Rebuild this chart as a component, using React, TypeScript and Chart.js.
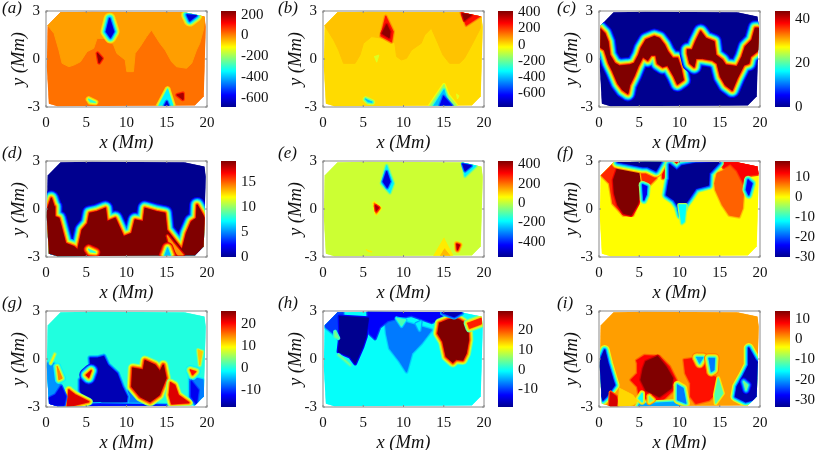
import { useEffect, useRef } from 'react'
import { Chart, registerables } from 'chart.js'

Chart.register(...registerables)

type Pt = number[]
type Region = [Pt[], number, number?]

const xTicks = [0, 5, 10, 15, 20]
const yTicks = [-3, 0, 3]
const jetStops: [number, number[]][] = [
    [0, [0, 0, 143]], [0.125, [0, 0, 255]], [0.375, [0, 255, 255]],
    [0.625, [255, 255, 0]], [0.875, [255, 0, 0]], [1, [128, 0, 0]],
]

// edge of the measured area, same in every panel
const outline = [[0.1, -0.5], [0.2, 2.1], [1.8, 2.92], [5.7, 2.95], [17.2, 2.92], [19.7, 2.65], [19.85, 2.0], [19.6, -2.35], [18.5, -2.9], [1.4, -2.95], [0.35, -2.8]]

// (a)
const aUpper = [[0.2, 2.1], [1.8, 2.92], [17.2, 2.92], [19.7, 2.65], [19.6, 1.92], [19.1, 0.98], [18.7, 0.56], [18.1, -0.27], [17.45, -0.58], [16.2, -0.48], [15.6, -0.17], [14.8, 0.56], [14.15, 0.98], [13.1, 1.81], [12.5, 1.4], [11.7, 0.77], [11.07, 0.35], [10.86, -0.79], [10.04, -0.79], [9.84, -0.06], [8.8, 0.35], [8.4, 0.88], [7.57, 1.29], [6.34, 1.29], [5.93, 0.67], [5.1, 0.46], [4.28, -0.17], [3.46, -0.38], [2.84, -0.48], [2.0, -0.27], [1.6, 0.56], [1.0, 1.6]]
const aBlue1 = [[7.9, 2.52], [8.4, 1.71], [8.0, 1.35], [7.5, 1.71]]
const aBlue2 = [[17.53, 2.75], [18.68, 2.71], [17.86, 2.4]]
const aRed1 = [[6.4, 0.35], [6.95, 0.04], [6.6, -0.23]]
const aRed2 = [[16.3, -2.25], [17.0, -2.15], [17.0, -2.52]]
const aFan = [[15.1, -1.9], [15.8, -3], [13.95, -3]]
const aFanCore = [[15.0, -2.67], [15.3, -3], [14.65, -3]]
const aSpot = [[5.3, -2.52], [6.13, -2.71], [5.5, -2.67]]

// (b)
const bUpper = [[0.2, 2.1], [1.73, 2.92], [17.16, 2.92], [19.63, 2.65], [19.55, 1.92], [18.6, 0.98], [17.57, 0.04], [16.95, -0.27], [15.72, -0.27], [14.9, 0.25], [14.28, 0.98], [13.46, 1.92], [12.63, 1.5], [12.2, 0.98], [11, 0.56], [10.37, 0.04], [9.75, -0.06], [9.14, 0.15], [8.93, 0.98], [8.31, 1.19], [7.49, 1.29], [6.05, 1.4], [5.02, 0.98], [4.6, 0.25], [3.99, -0.27], [2.55, -0.27], [1.93, 0.56], [1.32, 1.19], [0.29, 2.02]]
const bRed1 = [[7.8, 2.65], [8.7, 1.71], [8.5, 1.08], [7.2, 1.44]]
const bRed1Core = [[7.9, 2.13], [8.3, 1.71], [8.2, 1.35], [7.37, 1.6]]
const bRed2 = [[17.16, 2.92], [19.55, 2.7], [17.8, 2.12]]
const bRed2Core = [[17.37, 2.81], [18.4, 2.75], [17.6, 2.44]]
const bSpot1 = [[6.4, 0.15], [6.95, 0.25], [6.67, -0.2]]
const bFan = [[15.02, -1.63], [15.5, -2.25], [16.54, -2.9], [13.25, -2.95]]
const bFanMid = [[15.02, -1.94], [15.72, -3], [13.66, -3]]
const bFanCore = [[14.98, -2.35], [16.13, -3], [14.5, -3]]
const bSpot2 = [[16.6, -2.2], [16.9, -2.3], [16.7, -2.5]]
const bSpot3 = [[5.3, -2.52], [6.1, -2.7], [5.6, -2.67]]

// (c)
const cBand1 = [[0.08, 1.92], [0.7, 1.6], [1.11, 1.08], [1.32, 0.25], [1.93, -0.27], [2.55, -0.44], [3.79, -0.38], [4.4, -0.27], [4.94, 0.25], [5.23, 0.67], [5.84, 1.19], [6.87, 1.4], [7.49, 1.29], [8.11, 0.88], [8.52, 0.46], [9.14, 0.04], [9.75, 0.04], [10.16, -0.58], [10.45, -1.31], [9.75, -1.56], [9.34, -1.1], [8.52, -0.38], [7.9, -0.48], [7.28, -0.27], [7.08, 0.25], [6.46, 0.25], [6.05, -0.06], [5.43, 0.15], [4.81, -0.48], [4.4, -1.0], [3.79, -1.63], [3.58, -2.15], [2.96, -1.94], [2.35, -1.52], [1.73, -0.79], [1.23, -0.27], [0.7, 0.56], [0.08, 0.77]]
const cBand2 = [[11, 0.56], [11.6, 0.56], [12.02, 1.08], [12.63, 1.71], [13.25, 1.29], [14.28, 1.08], [14.49, 0.25], [15.3, -0.06], [15.72, -0.38], [17.16, -0.48], [17.78, 0.15], [18.19, 0.77], [19.01, 1.19], [19.42, 1.92], [19.84, 1.92], [19.84, 0.56], [18.8, 0.15], [18.6, -0.27], [17.98, -0.38], [17.16, -1.2], [16.54, -1.94], [15.72, -1.63], [15.1, -1.1], [14.69, -0.27], [14.07, -0.06], [12.84, 0.04], [12.02, 0.04], [11.81, -0.48], [11.3, -0.27], [11, 0.35]]

// (d)
const dLower = [[0, -0.27], [0.66, 0.67], [1, 0.15], [1.07, -0.48], [1.6, -0.58], [2.43, -2.15], [3.46, -2.35], [3.95, -2.56], [4.49, -1.31], [5.19, -0.9], [5.43, -0.27], [6.34, -0.17], [7.37, 0.04], [7.57, -0.79], [8.6, -0.58], [9.63, -1.73], [10.66, -1.52], [11.07, -0.69], [12.1, -0.79], [12.3, 0.04], [13.74, -0.17], [14.77, -0.27], [14.98, -1.31], [16.83, -2.5], [16.95, -2.5], [17.45, -1.52], [18.07, -0.79], [18.68, -0.58], [18.77, 0.25], [19.7, -0.58], [20, -2.56], [20, -3.2], [0, -3.2]]
const dStreak = [[15.1, -1.69], [15.8, -2.15], [17.04, -2.88], [16.42, -2.88], [15.39, -2.25]]
const dFan = [[15.1, -2.45], [15.5, -3], [14.7, -3]]
const dSpot = [[5.3, -2.52], [6.13, -2.71], [5.5, -2.67]]

// (e)
const eBlue1 = [[7.9, 2.7], [8.72, 1.6], [8.31, 1.02], [7.28, 1.6]]
const eBlue1Core = [[7.9, 2.33], [8.31, 1.71], [7.98, 1.35], [7.49, 1.71]]
const eBlue2 = [[17.37, 2.9], [19.0, 2.7], [17.65, 2.06]]
const eBlue2Core = [[17.37, 2.8], [18.4, 2.7], [17.65, 2.4]]
const eRed1 = [[6.38, 0.35], [7.08, 0.04], [6.63, -0.27]]
const eRed1Core = [[6.54, 0.2], [6.9, 0.08], [6.63, -0.1]]
const eRed2 = [[16.63, -2.2], [16.95, -2.25], [16.7, -2.55]]
const eFan = [[15.02, -1.83], [16.13, -2.9], [13.66, -3]]
const eFanCore = [[15.1, -2.5], [15.9, -3], [14.5, -3]]
const eSpot = [[5.4, -2.55], [6.1, -2.68], [5.6, -2.66]]

// (f)
const fShell = [[0.29, 2.12], [1.93, 2.9], [5.49, 2.4], [5.35, 0.98], [4.2, -0.38], [3.05, -0.38], [1.73, 0.35], [1.32, 1.6]]
const fDark = [[2.35, 2.6], [5.35, 2.4], [5.1, 1.08], [4.81, 0.35], [3.99, -0.38], [3.05, -0.27], [2.35, 0.25], [1.93, 0.98], [1.81, 1.81]]
const fRedMid = [[5.23, 2.44], [7.49, 2.85], [7.7, 2.75], [7.08, 1.92], [6.25, 1.5], [6.05, 1.29], [5.43, 1.71]]
const fRedTop = [[7.9, 2.9], [10.99, 2.9], [10.37, 2.69], [9.14, 2.81], [8.4, 1.92], [7.9, 1.92]]
const fStrip = [[2.35, 2.95], [7.7, 2.95], [7.08, 2.4], [6.05, 2.65], [5.43, 2.65]]
const fBlueSmall = [[5.43, 1.5], [5.93, 1.4], [5.84, 0.88], [5.56, 0.56]]
const fBlue = [[8.8, 2.75], [9.67, 2.4], [10.29, 2.69], [12.02, 2.85], [14.9, 2.9], [13.66, 2.23], [13.58, 1.5], [12.02, 1.29], [11.2, 0.67], [10.58, 0.25], [10.16, -0.38], [9.88, 0.15], [9.34, 0.56], [8.4, 0.88], [8.72, 1.81]]
const fTail = [[9.96, 0.25], [10.78, 0.25], [10.58, -0.79], [10.29, -0.9]]
const fOrange = [[14.4, 1.6], [14.7, 2.23], [15.5, 2.4], [16.3, 2.75], [17.2, 2.23], [18.0, 1.6], [17.8, 0.04], [17.4, -0.48], [16.2, -0.38], [15.35, 0.25], [14.5, 1.19]]
const fRedRight = [[15.1, 2.9], [17, 2.93], [19.84, 2.65], [19.84, 2.2], [18.2, 2.1], [18.0, 1.6], [17.2, 2.4], [16.3, 2.85], [15.5, 2.6]]
const fBlueRight = [[18.52, 1.81], [19.01, 1.6], [18.6, 0.88], [18.31, 1.2]]

// (g)
const gBlue = [[5.51, 0.04], [6.34, 0.04], [7.16, 0.15], [7.65, -0.38], [8.8, -0.9], [9.42, -1.73], [10.04, -2.35], [9.96, -2.67], [8.4, -2.77], [6.75, -2.81], [4.69, -2.46], [4.28, -1.94], [4.28, -1.31], [5.19, -1], [5.6, -0.48]]
const gDark = [[10.78, -0.58], [12.1, -0.69], [12.3, -0.1], [13.54, -0.38], [14.16, -0.79], [14.57, -0.38], [14.9, -1.2], [14.07, -2.25], [12.92, -2.67], [11.69, -2.35], [10.66, -1.73]]
const gRedRight = [[15.47, -1.48], [16, -1.63], [16.43, -2.25], [17.76, -2.73], [15.6, -2.81], [15.31, -2.25]]
const gRedLeft = [[2.84, -1.94], [3.66, -2.25], [5.31, -2.67], [2.63, -3]]
const gBlueLeft = [[1.89, -1.73], [2.43, -2.35], [2.22, -2.88], [0.58, -2.88], [0.37, -2.46], [1.19, -2.25]]
const gPaleLeft = [[0.16, -0.27], [1, -0.27], [1.19, -1.1], [1.81, -1.63], [1.19, -2.15], [0.37, -2.35], [0.16, -1.52]]
const gSpot1 = [[1.4, -0.48], [2.0, -1.2], [1.6, -1.3]]
const gSpot2 = [[0.58, -0.27], [1.1, 0.31], [0.8, -0.06]]
const gSpot3 = [[5.0, -1], [5.6, -0.73], [5.3, -1.15]]
const gSpot4 = [[17.94, -0.69], [18.6, -0.79], [18.2, -1]]
const gSpot5 = [[18.89, 0.56], [19.42, 0.46], [19.1, -0.38]]
const gPaleRight = [[17.86, -1.1], [19.5, -1.31], [19.6, -2.56], [18.5, -2.88], [17.86, -2.35]]
const gBlueRight = [[18.07, -1.42], [18.9, -1.94], [18.68, -2.77], [18.07, -2.35]]
const gStrip = [[6.75, -2.81], [14.98, -2.88], [14.98, -3.05], [1.4, -3.05], [0.58, -2.9]]
const gPaleMid = [[10.25, -1.94], [11.28, -2.56], [13.74, -2.77], [10.04, -2.77]]

// (h)
const hMid = [[7.7, 2.65], [13.46, 1.81], [12.2, 0.98], [11, 0.35], [10.37, -0.79], [9.55, -0.15], [8.3, 0.67], [7.9, 1.6]]
const hTop = [[5.6, 2.95], [15.5, 2.95], [14.9, 2.6], [13.5, 2.3], [11, 2.75], [9.5, 2.6], [8, 2.4], [7.0, 2.0], [6.46, 1.29], [5.8, 1.6]]
const hLeft = [[0.29, 2.2], [1.73, 2.9], [2.5, 2.9], [2.0, 1.2], [1.3, 1.6], [0.3, 2.0]]
const hBlue = [[2.06, 2.65], [5.64, 2.54], [5.31, 1.4], [4.9, 0.77], [3.99, -0.27], [3.37, 0.15], [1.93, 0.46], [2.14, 1.4]]
const hSpot1 = [[9.14, 2.54], [10.25, 2.44], [9.75, 2.06]]
const hSpot2 = [[11.6, 2.2], [12.14, 2.33], [12, 1.8]]
const hSpot3 = [[1.5, 1.7], [1.9, 1.3], [1.5, 1.4]]
const hSpot4 = [[1.93, 0.25], [2.96, -0.17], [3.37, -0.38]]
const hDark = [[14.49, 2.23], [15.51, 2.44], [16.34, 2.54], [16.95, 2.44], [17.98, 2.12], [18.07, 1.19], [17.77, 0.35], [17.37, -0.06], [16.54, -0.02], [16.13, -0.21], [15.31, 0.15], [14.9, 1.08], [14.28, 1.6]]
const hBandRight = [[17.98, 2.23], [19.63, 2.54], [19.63, 2.19], [18.2, 1.92]]
const hTopRight = [[14.9, 2.9], [17.2, 2.9], [16.3, 2.65]]

// (i)
const iBlueLeft = [[0, -0.27], [0.7, 0.56], [1.11, -0.27], [1.73, -1.31], [1.93, -1.63], [0.9, -2.35], [0.49, -2.56], [0, -1.94]]
const iDarkLeft = [[1.44, -2.1], [2.14, -2.35], [2.35, -3], [1.32, -3]]
const iPale = [[2.55, -1.83], [4.2, -2.25], [4.81, -2.67], [4.2, -2.88], [2.35, -3]]
const iShell = [[4.7, -0.1], [5.64, 0.2], [7.49, 0.15], [8.72, -0.48], [9.55, -1.31], [9.22, -1.94], [7.9, -2.56], [6.87, -2.56], [5.84, -2.46], [5.02, -2.35], [4.81, -1.73], [4.0, -1.31], [4.81, -0.9], [4.81, -0.27]]
const iDark = [[5.84, -0.17], [7.28, 0.15], [8.3, -0.48], [9.14, -1.2], [8.93, -1.83], [7.49, -2.35], [5.84, -1.94], [5.23, -1.31], [5.51, -0.6]]
const iRed = [[10.58, -0.06], [12.02, 0.04], [13.25, -0.27], [13.25, -0.9], [14.69, -1.2], [14.49, -2.15], [13.66, -2.56], [12.02, -2.77], [11.4, -2.35], [11.4, -1.52], [10.78, -0.9]]
const iBlue1 = [[12.14, 0.1], [12.92, 0.1], [12.5, -0.27]]
const iBlue2 = [[13.66, 0.04], [14.36, 0.04], [14.28, -0.69], [13.95, -0.79]]
const iStripe = [[14.81, -1.2], [15.39, -2.15], [14.49, -2.77], [14.4, -2.25]]
const iBottom = [[5.02, -2.81], [10.37, -2.67], [10.78, -3], [4.81, -3]]
const iVert = [[9.75, -1.63], [10.45, -1.83], [10.8, -2.77], [9.75, -2.56]]
const iSpot1 = [[4.94, -2.46], [5.35, -2.15], [5.35, -2.67]]
const iSpot2 = [[6.25, -2.35], [6.7, -2.56], [6.25, -2.7]]
const iBlueRight = [[18.6, 0.67], [19.42, -0.06], [19.85, -0.27], [19.85, -2.46], [18.2, -2.67], [16.95, -2.35], [17.16, -1.73], [17.98, -1.0], [18.6, -0.38]]
const iSpot3 = [[17.98, -1.42], [18.48, -1.63], [18.27, -1.94]]

const labels = ['(a)', '(b)', '(c)', '(d)', '(e)', '(f)', '(g)', '(h)', '(i)']
const ranges = [[-690, 235], [-770, 415], [0, 43.5], [0, 19.2], [-560, 435], [-30, 17.8], [-17.8, 26], [-18.8, 29.5], [-33.6, 14]]
const barTicks = [
    [200, 0, -200, -400, -600], [400, 200, 0, -200, -400, -600], [40, 20, 0],
    [15, 10, 5, 0], [400, 200, 0, -200, -400], [10, 0, -10, -20, -30],
    [20, 10, 0, -10], [20, 10, 0, -10], [10, 0, -10, -20, -30],
]
const baseValues = [17, 12, 0, 0, 12, -0.1, 0, -0.45, 0.67]
const regions: Region[][] = [
    [[aUpper, -24], [aBlue1, -620], [aBlue2, -620], [aRed1, 220], [aRed2, 200], [aFan, -350], [aFanCore, -620, -350], [aSpot, -300]],
    [[bUpper, 40], [bRed1, 250], [bRed1Core, 400, 250], [bRed2, 250], [bRed2Core, 400, 250], [bSpot1, -70], [bFan, -150], [bFanMid, -400, -150], [bFanCore, -650, -400], [bSpot2, -60], [bSpot3, -400]],
    [[cBand1, 43.5], [cBand2, 43.5]],
    [[dLower, 19.2], [dStreak, 14, 19.2], [dFan, 6, 19.2], [dSpot, 8, 19.2]],
    [[eBlue1, -200], [eBlue1Core, -480, -200], [eBlue2, -200], [eBlue2Core, -500, -200], [eRed1, 200], [eRed1Core, 400, 200], [eRed2, 400], [eFan, 80], [eFanCore, 130, 80], [eSpot, 80]],
    [[fShell, 10], [fDark, 17.8, 10], [fRedMid, 10], [fRedTop, 12], [fStrip, -30, 10], [fBlueSmall, -25], [fOrange, 7.3], [fRedRight, 12, 7.3], [fBlue, -30], [fTail, -12], [fBlueRight, -25]],
    [[gPaleLeft, -6], [gPaleRight, -7], [gPaleMid, -7], [gBlue, -16], [gStrip, -12], [gDark, 26], [gRedRight, 22], [gRedLeft, 22], [gBlueLeft, -14, -6], [gSpot1, 15, -6], [gSpot2, 10], [gSpot3, 22, -16], [gSpot4, 20, -6], [gSpot5, 12], [gBlueRight, -13, -7]],
    [[hMid, -7], [hTop, -13, -7], [hLeft, -10], [hBlue, -18.8, -10], [hSpot1, 3, -7], [hSpot2, -1, -7], [hSpot3, 5], [hSpot4, 5], [hDark, 29.5], [hBandRight, 22], [hTopRight, -17]],
    [[iBlueLeft, -32], [iDarkLeft, 10], [iPale, -2], [iShell, 8], [iDark, 14, 8], [iRed, 7.3], [iBlue1, -20, 7.3], [iBlue2, -22, 7.3], [iStripe, -12, 2], [iBottom, -20, -2], [iVert, -22, 2], [iSpot1, -15, 2], [iSpot2, -10, 5], [iBlueRight, -32], [iSpot3, -10, -32]],
]

const serif = '"Liberation Serif", serif'
const haloPx = 8

function jet(t: number) {
    const v = Math.min(1, Math.max(0, t))
    for (let i = 1; i < jetStops.length; i++) {
        const [t1, c1] = jetStops[i]
        const [t0, c0] = jetStops[i - 1]
        if (v <= t1) {
            const f = (v - t0) / (t1 - t0)
            const c = c0.map((a, k) => Math.round(a + (c1[k] - a) * f))
            return `rgb(${c[0]},${c[1]},${c[2]})`
        }
    }
    return 'rgb(128,0,0)'
}

const closed = (pts: Pt[]) => [...pts, pts[0]].map(([x, y]) => ({ x, y }))

// one filled polygon plus a few wider strokes under it, so the edge runs through the colormap
function regionLayers(region: Region, base: number, toT: (v: number) => number) {
    const [pts, value, around = base] = region
    const data = closed(pts)
    const dt = Math.abs(toT(value) - toT(around))
    const n = dt < 0.08 ? 0 : Math.max(2, Math.round(dt * haloPx))
    const out: any[] = []
    const line = { data, showLine: true, pointRadius: 0, borderJoinStyle: 'round', borderCapStyle: 'round' }
    for (let k = n; k >= 1; k--) {
        const t = toT(value) + ((toT(around) - toT(value)) * k) / (n + 1)
        out.push({ ...line, borderColor: jet(t), borderWidth: 2 * k, fill: false })
    }
    out.push({ ...line, borderColor: jet(toT(value)), backgroundColor: jet(toT(value)), borderWidth: 1, fill: 'shape' })
    return out
}

// clips the map to the measured area and draws the thin grey axes box on top
const mapFrame = {
    id: 'mapFrame',
    beforeDatasetsDraw(chart: any) {
        const { ctx, scales } = chart
        ctx.save()
        ctx.beginPath()
        outline.forEach(([x, y], i) => {
            const px = scales.x.getPixelForValue(x)
            const py = scales.y.getPixelForValue(y)
            if (i === 0) ctx.moveTo(px, py)
            else ctx.lineTo(px, py)
        })
        ctx.closePath()
        ctx.clip()
    },
    afterDatasetsDraw(chart: any) {
        chart.ctx.restore()
    },
    afterDraw(chart: any) {
        const { ctx, chartArea: a, scales } = chart
        ctx.save()
        ctx.strokeStyle = '#8a8a8a'
        ctx.lineWidth = 1
        ctx.strokeRect(a.left, a.top, a.right - a.left, a.bottom - a.top)
        ctx.beginPath()
        xTicks.forEach((v) => {
            const px = scales.x.getPixelForValue(v)
            ctx.moveTo(px, a.bottom)
            ctx.lineTo(px, a.bottom - 2)
            ctx.moveTo(px, a.top)
            ctx.lineTo(px, a.top + 2)
        })
        yTicks.forEach((v) => {
            const py = scales.y.getPixelForValue(v)
            ctx.moveTo(a.left, py)
            ctx.lineTo(a.left + 2, py)
            ctx.moveTo(a.right, py)
            ctx.lineTo(a.right - 2, py)
        })
        ctx.stroke()
        ctx.restore()
    },
}

const axisTitle = (text: string, padding: any) => ({
    display: true,
    text,
    color: '#111',
    padding,
    font: { family: serif, size: 18.5, style: 'italic' as const },
})

// tick padding would otherwise push the plot area in, the sizes below are what the layout needs
const fixBox = (size: { width?: number; height?: number }) => (s: any) => {
    if (size.width) s.width = size.width
    if (size.height) s.height = size.height
    s.paddingTop = s.paddingBottom = s.paddingLeft = s.paddingRight = 0
}

function Panel({ index }: { index: number }) {
    const mapRef = useRef<HTMLCanvasElement | null>(null)
    const barRef = useRef<HTMLCanvasElement | null>(null)

    const col = index % 3
    const row = Math.floor(index / 3)
    const left = [0, 277, 553][col]
    const top = [0, 150, 300][row]
    const barLeft = [221, 498, 775][col]

    useEffect(() => {
        const [lo, hi] = ranges[index]
        const toT = (v: number) => (v - lo) / (hi - lo)
        const base = baseValues[index]
        const layers = regions[index].flatMap((r) => regionLayers(r, base, toT))
        const baseColor = jet(toT(base))
        const datasets = [
            { data: closed(outline), showLine: true, pointRadius: 0, borderWidth: 1, borderColor: baseColor, backgroundColor: baseColor, fill: 'shape' },
            ...layers,
        ].reverse() // first dataset is painted last

        const tickFont = { family: serif, size: 15 }
        const noGrid = { display: false, drawTicks: false }
        const map = new Chart(mapRef.current!, {
            type: 'scatter',
            data: { datasets: datasets as any },
            plugins: [mapFrame],
            options: {
                animation: false,
                responsive: false,
                layout: { padding: { top: 11, right: 14 } },
                plugins: { legend: { display: false }, tooltip: { enabled: false } },
                scales: {
                    x: {
                        type: 'linear',
                        min: 0,
                        max: 20,
                        afterBuildTicks: (s: any) => { s.ticks = xTicks.map((value) => ({ value })) },
                        afterFit: fixBox({ height: 47 }),
                        grid: noGrid,
                        border: { display: false },
                        ticks: { color: '#111', font: tickFont, padding: 7, maxRotation: 0, autoSkip: false },
                        title: axisTitle('x (Mm)', { top: 0, bottom: 0 }),
                    },
                    y: {
                        type: 'linear',
                        min: -3,
                        max: 3,
                        afterBuildTicks: (s: any) => { s.ticks = yTicks.map((value) => ({ value })) },
                        afterFit: fixBox({ width: 46 }),
                        grid: noGrid,
                        border: { display: false },
                        ticks: { color: '#111', font: tickFont, padding: 6, autoSkip: false },
                        title: axisTitle('y (Mm)', { top: 8, bottom: 0 }),
                    },
                },
            } as any,
        })

        const bar = new Chart(barRef.current!, {
            type: 'bar',
            data: {
                labels: [''],
                datasets: [{
                    data: [[lo, hi]] as any,
                    categoryPercentage: 1,
                    barPercentage: 1,
                    backgroundColor: (c: any) => {
                        const a = c.chart.chartArea
                        if (!a) return 'transparent'
                        const g = c.chart.ctx.createLinearGradient(0, a.bottom, 0, a.top)
                        jetStops.forEach(([t]) => g.addColorStop(t, jet(t)))
                        return g
                    },
                }],
            },
            options: {
                animation: false,
                responsive: false,
                layout: { padding: { top: 11, bottom: 12 } },
                plugins: { legend: { display: false }, tooltip: { enabled: false } },
                scales: {
                    x: { display: false },
                    y: {
                        position: 'right',
                        min: lo,
                        max: hi,
                        afterBuildTicks: (s: any) => { s.ticks = barTicks[index].map((value) => ({ value })) },
                        afterFit: fixBox({ width: 45 }),
                        grid: noGrid,
                        border: { display: false },
                        ticks: { color: '#111', font: tickFont, padding: 5, autoSkip: false, callback: (v: any) => String(v) },
                    },
                },
            } as any,
        })

        return () => {
            map.destroy()
            bar.destroy()
        }
    }, [index])

    return (
        <>
            <canvas ref={mapRef} width={221} height={154} style={{ position: 'absolute', left, top, filter: 'blur(0.5px)' }} />
            <canvas ref={barRef} width={60} height={119} style={{ position: 'absolute', left: barLeft, top, filter: 'blur(0.4px)' }} />
            <span style={{ position: 'absolute', left: [2, 278, 557][col], top: [-2, 143, 293][row], font: `italic 17px/20px ${serif}`, color: '#111' }}>
                {labels[index]}
            </span>
        </>
    )
}

export default function App() {
    return (
        <div style={{ position: 'absolute', left: 0, top: 0, width: 830, height: 450, overflow: 'hidden', background: '#fff' }}>
            {labels.map((_, i) => <Panel key={i} index={i} />)}
        </div>
    )
}
